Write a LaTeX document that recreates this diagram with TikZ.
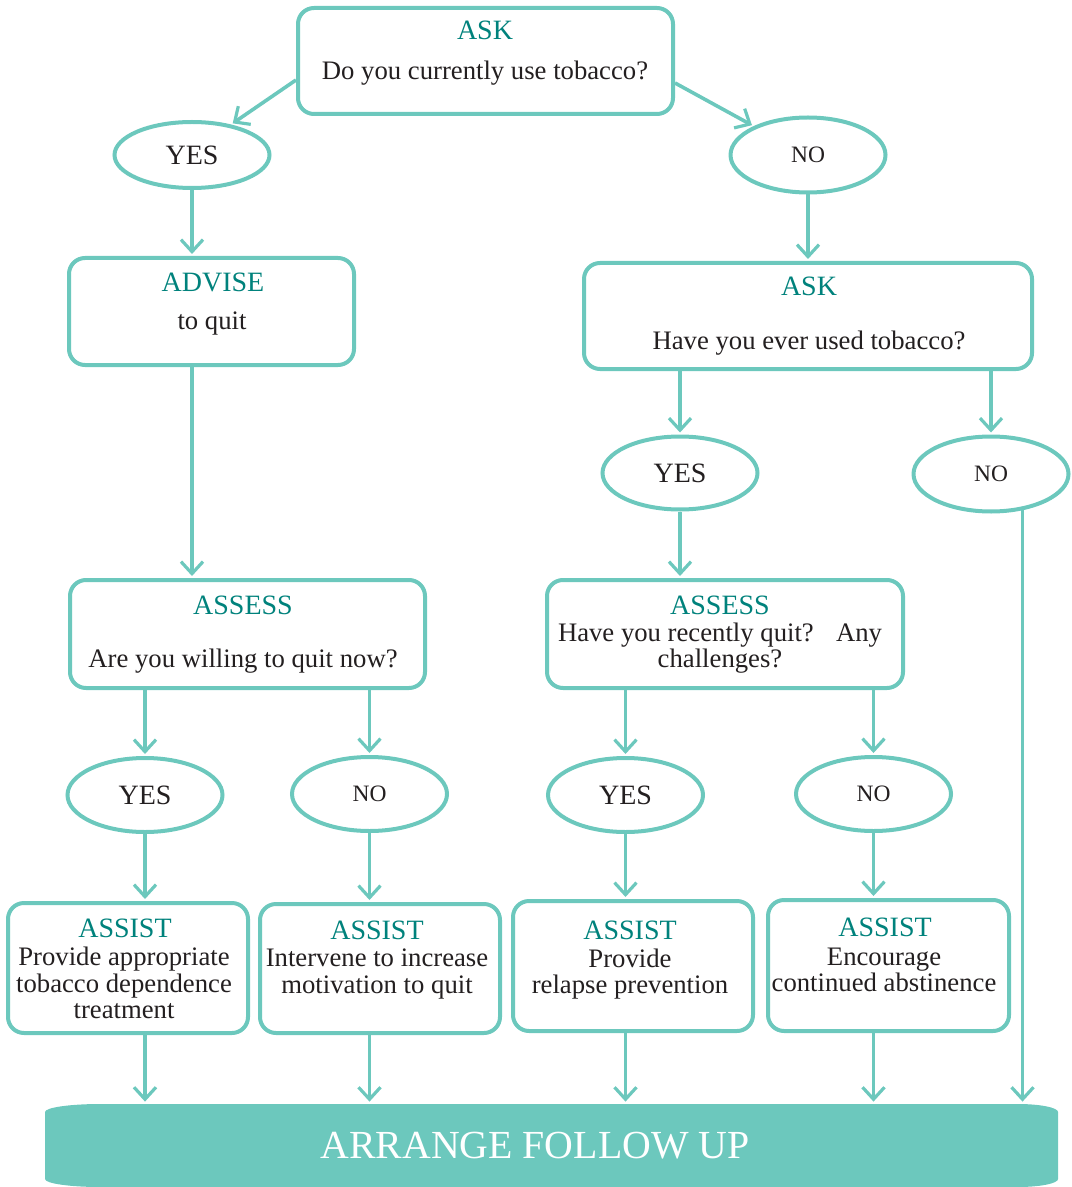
\documentclass[tikz,border=0pt]{standalone}
\usepackage{fontspec}
\setmainfont{Liberation Serif}
\usetikzlibrary{positioning}
\usetikzlibrary{calc}
\usetikzlibrary{arrows.meta}
\usetikzlibrary{shapes.geometric}
\definecolor{aqualine}{HTML}{6CC8BD}
\definecolor{headteal}{HTML}{00827C}
\definecolor{textblack}{HTML}{231F20}
\def\pxu{0.5pt}

\begin{document}
\begin{tikzpicture}[
            x = 0.5pt, y = -0.5pt, % one unit is one pixel of the layout
            > = {Straight Barb[length=6pt, width=11pt, line width=1.6pt]}, % arrow head style
            shorten > = 1pt % don't touch arrow head to node
        ]

        \tikzstyle{box}=[
            draw = aqualine,
            line width = 2pt,
            rounded corners = 8pt,
            fill = white,
            inner sep = 0pt
        ]
        \tikzstyle{answer}=[
            ellipse,
            draw = aqualine,
            line width = 2pt,
            text = textblack,
            inner sep = 0pt,
            minimum width = 155*\pxu,
            minimum height = 74*\pxu
        ]
        \tikzstyle{yes}=[answer, font=\fontsize{14}{14}\selectfont]
        \tikzstyle{no}=[answer, font=\fontsize{11.75}{12}\selectfont]
        \tikzstyle{head}=[text=headteal, font=\fontsize{14}{14}\selectfont, inner sep=0pt]
        \tikzstyle{body}=[text=textblack, font=\fontsize{13.35}{13.3}\selectfont, align=center, inner sep=0pt]
        \tikzstyle{link}=[draw=aqualine, line width=1.8pt, ->]

        \useasboundingbox (0,0) rectangle (1071,1187);

        % first question
        \node[box, minimum width=375*\pxu, minimum height=106*\pxu] (ASK1) at (485.5,61) {};
        \node[head] (ASK1h) at (485,30) {ASK};
        \node[body] (ASK1q) at (485,73) {Do you currently use tobacco?};

        \node[yes, minimum height=66*\pxu] (YES1) at (192,155) {YES};
        \node[no, minimum height=75*\pxu] (NO1) at (808,155) {NO};

        \draw[link] ($(ASK1.west)+(0,19)$) -- (YES1.38);
        \draw[link] ($(ASK1.east)+(0,22)$) -- (NO1.152);

        % current users
        \node[box, minimum width=285*\pxu, minimum height=107*\pxu] (ADVISE) at (211.5,311.5) {};
        \node[head] (ADVISEh) at (213,282) {ADVISE};
        \node[body] (ADVISEq) at (212,324) {to quit};

        \draw[link] (YES1.south) -- (ADVISE.north -| YES1);

        \node[box, minimum width=355*\pxu, minimum height=108*\pxu] (ASSESS1) at (247.5,634) {};
        \node[head] (ASSESS1h) at (243,605) {ASSESS};
        \node[body] (ASSESS1q) at (243,661) {Are you willing to quit now?};

        \draw[link] (ADVISE.south -| YES1) -- (ASSESS1.north -| YES1);

        % never or former users
        \node[box, minimum width=448*\pxu, minimum height=106*\pxu] (ASK2) at (808,316) {};
        \node[head] (ASK2h) at (809,286) {ASK};
        \node[body] (ASK2q) at (809,343) {Have you ever used tobacco?};

        \draw[link] (NO1.south) -- (ASK2.north -| NO1);

        \node[yes, minimum height=73*\pxu] (YES2) at (680,473) {YES};
        \node[no, minimum height=75*\pxu] (NO2) at (991,474) {NO};

        \draw[link] (ASK2.south -| YES2) -- (YES2.north);
        \draw[link] (ASK2.south -| NO2) -- (NO2.north);

        \node[box, minimum width=356*\pxu, minimum height=108*\pxu] (ASSESS2) at (725,634) {};
        \node[head] (ASSESS2h) at (720,605) {ASSESS};
        \node[body] (ASSESS2q) at (720,648) {Have you recently quit?~~ Any\\challenges?};

        \draw[link] (YES2.south) -- (ASSESS2.north -| YES2);

        % answers
        \node[yes] (YES3) at (145,795) {YES};
        \node[no] (NO3) at (369.5,794) {NO};
        \node[yes] (YES4) at (625.5,795) {YES};
        \node[no] (NO4) at (873.5,794) {NO};

        \draw[link] (ASSESS1.south -| YES3) -- (YES3.north);
        \draw[link] (ASSESS1.south -| NO3) -- (NO3.north);
        \draw[link] (ASSESS2.south -| YES4) -- (YES4.north);
        \draw[link] (ASSESS2.south -| NO4) -- (NO4.north);

        % assist
        \node[box, minimum width=240*\pxu, minimum height=130*\pxu] (ASSIST1) at (128,968) {};
        \node[head] (ASSIST1h) at (125,928) {ASSIST};
        \node[body] (ASSIST1q) at (124,983) {Provide appropriate\\tobacco dependence\\treatment};

        \node[box, minimum width=240*\pxu, minimum height=129*\pxu] (ASSIST2) at (380,968.5) {};
        \node[head] (ASSIST2h) at (377,930) {ASSIST};
        \node[body] (ASSIST2q) at (377,974) {Intervene to increase\\motivation to quit};

        \node[box, minimum width=240*\pxu, minimum height=130*\pxu] (ASSIST3) at (633,966) {};
        \node[head] (ASSIST3h) at (630,930) {ASSIST};
        \node[body] (ASSIST3q) at (630,974) {Provide\\relapse prevention};

        \node[box, minimum width=241*\pxu, minimum height=131*\pxu] (ASSIST4) at (888.5,965.5) {};
        \node[head] (ASSIST4h) at (885,927) {ASSIST};
        \node[body] (ASSIST4q) at (884,970) {Encourage\\continued abstinence};

        \draw[link] (YES3.south) -- (ASSIST1.north -| YES3);
        \draw[link] (NO3.south) -- (ASSIST2.north -| NO3);
        \draw[link] (YES4.south) -- (ASSIST3.north -| YES4);
        \draw[link] (NO4.south) -- (ASSIST4.north -| NO4);

        % follow up
        \fill[aqualine] (100,1104) -- (1018,1104)
            arc[start angle=-90, end angle=0, x radius=40, y radius=8] -- (1058,1179)
            arc[start angle=0, end angle=90, x radius=40, y radius=8] -- (100,1187)
            arc[start angle=90, end angle=180, x radius=55, y radius=8] -- (45,1112)
            arc[start angle=180, end angle=270, x radius=55, y radius=8] -- cycle;
        \node[text=white, font=\fontsize{19.9}{20}\selectfont, minimum height=83*\pxu, inner sep=0pt] (FOLLOW) at (535,1145.5) {ARRANGE FOLLOW UP};

        \draw[link] (ASSIST1.south -| YES3) -- (FOLLOW.north -| YES3);
        \draw[link] (ASSIST2.south -| NO3) -- (FOLLOW.north -| NO3);
        \draw[link] (ASSIST3.south -| YES4) -- (FOLLOW.north -| YES4);
        \draw[link] (ASSIST4.south -| NO4) -- (FOLLOW.north -| NO4);
        \draw[link] (NO2.-49) -- (NO2.-49 |- FOLLOW.north);

\end{tikzpicture}
\end{document}
